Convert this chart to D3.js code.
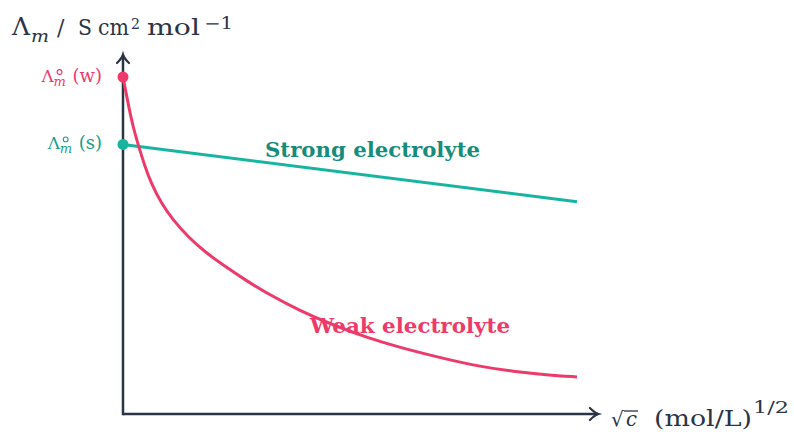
<!DOCTYPE html>
<html><head><meta charset="utf-8">
<script src="https://cdn.jsdelivr.net/npm/d3@7"></script>
<style>body{margin:0;background:#fff}svg{display:block}</style>
</head><body><svg id="c" width="794" height="432"></svg>
<script>
// sqrt(c) positions (relative units) and molar conductivity (relative units)
const weakX = [0, 0.011, 0.022, 0.035, 0.048, 0.062, 0.084, 0.110, 0.143, 0.181, 0.225, 0.269, 0.317, 0.390, 0.463, 0.537, 0.610, 0.714, 0.786, 0.859, 0.934, 1.0];
const weakY = [100, 92.3, 85.2, 79.2, 73.6, 68.5, 62.6, 57.6, 52.6, 48.0, 43.8, 39.8, 35.8, 30.6, 26.4, 22.7, 19.7, 16.2, 14.1, 12.6, 11.6, 11.0];
const strongX = [0, 1.0];
const strongY = [80, 63];
const limitLabels = ["(w)", "(s)"];
const limitValues = [100, 80];
const seriesNames = ["Strong electrolyte", "Weak electrolyte"];

const svg = d3.select("#c");
const x = d3.scaleLinear().domain([0, 1]).range([123, 577]);
const y = d3.scaleLinear().domain([0, 100]).range([414, 77]);
const axisCol = "#2b3445", pink = "#ee3a6a", teal = "#17b5a0", tealText = "#168c7a", pinkText = "#ee3a6a";
const serif = "'DejaVu Serif', serif";

// axes
const xMax = 1.046, yMax = 106.5;
svg.append("line").attr("x1", x(0)).attr("y1", y(0)).attr("x2", x(xMax)).attr("y2", y(0))
  .attr("stroke", axisCol).attr("stroke-width", 2.5);
svg.append("line").attr("x1", x(0)).attr("y1", y(0) + 1.2).attr("x2", x(0)).attr("y2", y(yMax))
  .attr("stroke", axisCol).attr("stroke-width", 2.5);
svg.append("path").attr("d", `M${x(xMax)-8},${y(0)-6} Q${x(xMax)-3},${y(0)-1} ${x(xMax)+0.5},${y(0)} Q${x(xMax)-3},${y(0)+1} ${x(xMax)-8},${y(0)+6}`)
  .attr("fill", "none").attr("stroke", axisCol).attr("stroke-width", 2.2).attr("stroke-linecap", "round");
svg.append("path").attr("d", `M${x(0)-6},${y(yMax)+8} Q${x(0)-1},${y(yMax)+3} ${x(0)},${y(yMax)-0.5} Q${x(0)+1},${y(yMax)+3} ${x(0)+6},${y(yMax)+8}`)
  .attr("fill", "none").attr("stroke", axisCol).attr("stroke-width", 2.2).attr("stroke-linecap", "round");

// lines
const line = d3.line().x(d => x(d[0])).y(d => y(d[1])).curve(d3.curveBasis);
svg.append("path").datum(strongX.map((v, i) => [v, strongY[i]])).attr("d", line)
  .attr("fill", "none").attr("stroke", teal).attr("stroke-width", 3);
svg.append("path").datum(weakX.map((v, i) => [v, weakY[i]])).attr("d", line)
  .attr("fill", "none").attr("stroke", pink).attr("stroke-width", 3);

// dots
const dotCols = [pink, teal];
svg.selectAll("circle.d").data(limitValues).enter().append("circle")
  .attr("cx", x(0)).attr("cy", d => y(d)).attr("r", 5.5).attr("fill", (d, i) => dotCols[i]);

// limit labels
const limCols = [pinkText, "#17a08c"];
limitValues.forEach((v, i) => {
  const base = y(v) + 5;
  const g = svg.append("g").attr("fill", limCols[i]).attr("font-family", serif);
  const p = g.append("text").attr("x", 102).attr("y", base).attr("text-anchor", "end")
    .attr("font-size", 18).text(limitLabels[i]);
  const ps = 102 - p.node().getComputedTextLength();
  g.append("text").attr("x", ps - 31).attr("y", base).attr("font-size", 17).text("Λ");
  g.append("text").attr("x", ps - 19).attr("y", base + 4).attr("font-size", 13).attr("font-style", "italic").text("m");
  g.append("circle").attr("cx", ps - 13).attr("cy", base - 10).attr("r", 2.4)
    .attr("fill", "none").attr("stroke", limCols[i]).attr("stroke-width", 1.1);
});

// series labels
svg.append("text").attr("x", 265).attr("y", 157).attr("font-family", serif).attr("font-weight", "bold")
  .attr("font-size", 21).attr("fill", tealText).attr("textLength", 215).attr("lengthAdjust", "spacingAndGlyphs").text(seriesNames[0]);
svg.append("text").attr("x", 310).attr("y", 333).attr("font-family", serif).attr("font-weight", "bold")
  .attr("font-size", 21).attr("fill", pinkText).attr("textLength", 200).attr("lengthAdjust", "spacingAndGlyphs").text(seriesNames[1]);

// y axis title
const yt = svg.append("g").attr("font-family", serif).attr("fill", axisCol);
const piece = (g, t, px, py, fs, len, it) => {
  const e = g.append("text").attr("x", px).attr("y", py).attr("font-size", fs).text(t);
  if (len) e.attr("textLength", len).attr("lengthAdjust", "spacingAndGlyphs");
  if (it) e.attr("font-style", "italic");
  return e;
};
piece(yt, "Λ", 12, 35, 24, 18);
piece(yt, "m", 31, 42, 17, 18, true);
piece(yt, "/", 57, 35, 22);
piece(yt, "S", 78, 35, 22, 14);
piece(yt, "cm", 98, 35, 22, 31);
piece(yt, "2", 131, 29, 15, 9);
piece(yt, "mol", 147, 35, 22, 53);
piece(yt, "−1", 204, 29, 16, 29);

// x axis title
const xt = svg.append("g").attr("font-family", serif).attr("fill", axisCol);
piece(xt, "√", 611, 426, 20);
piece(xt, "c", 626, 426, 20, 11, true);
piece(xt, "(mol/L)", 654, 426, 22, 98);
piece(xt, "1/2", 753, 413, 16, 36);
xt.append("line").attr("x1", 624).attr("x2", 638).attr("y1", 411).attr("y2", 411).attr("stroke", axisCol).attr("stroke-width", 1.3);
</script></body></html>
